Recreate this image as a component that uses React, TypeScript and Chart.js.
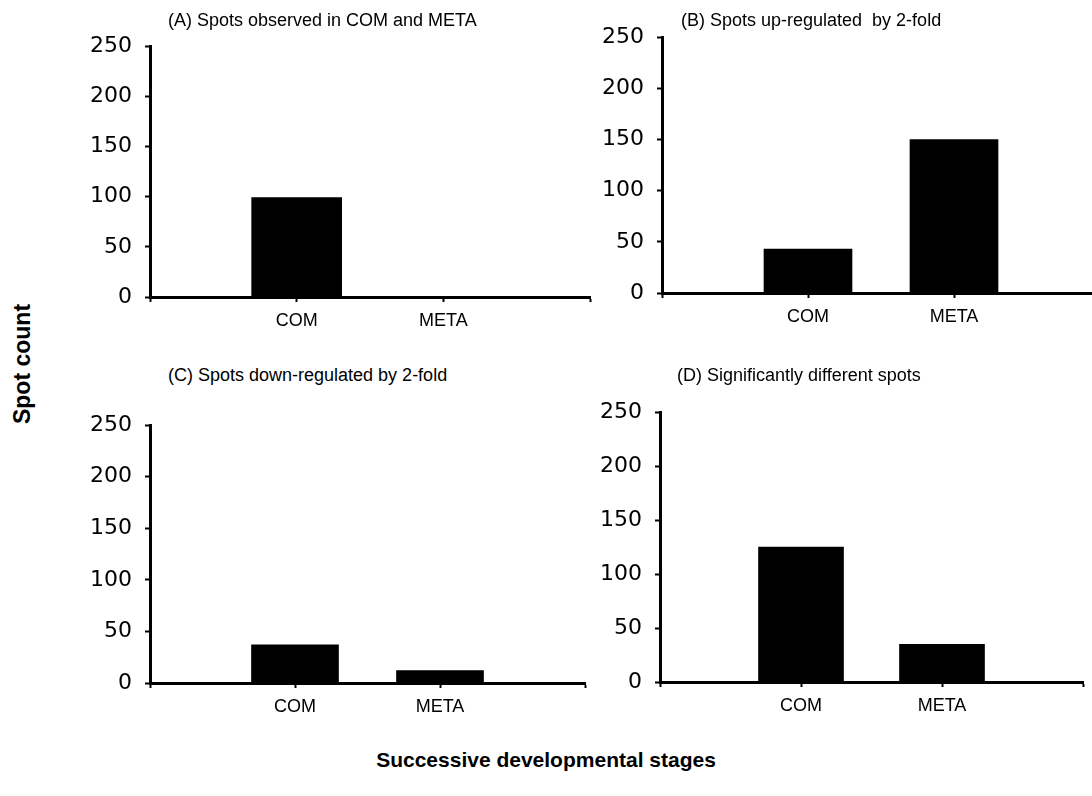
import React, { useEffect, useRef } from "react";
import { Chart, registerables } from "chart.js";

Chart.register(...registerables);

// ---- data ----
const categories: string[] = ["", "COM", "META", ""];
const yTickValues: number[] = [0, 50, 100, 150, 200, 250];
const panelTitles: string[] = [
  "(A) Spots observed in COM and META",
  "(B) Spots up-regulated  by 2-fold",
  "(C) Spots down-regulated by 2-fold",
  "(D) Significantly different spots",
];
const spotsObserved: (number | null)[] = [null, 99, 0, null];
const spotsUp: (number | null)[] = [null, 43, 150, null];
const spotsDown: (number | null)[] = [null, 37, 12, null];
const spotsSignificant: (number | null)[] = [null, 125, 35, null];
const yAxisTitle = "Spot count";
const xAxisTitle = "Successive developmental stages";

// ---- layout (styles only) ----
type Geo = {
  axisLeft: number;
  axisRight: number;
  yTop: number;
  yBottom: number;
  bar: number;
  titleX: number;
  titleY: number;
};

const geoA: Geo = { axisLeft: 150, axisRight: 590, yTop: 40, yBottom: 297, bar: 90, titleX: 168, titleY: 20 };
const geoB: Geo = { axisLeft: 662, axisRight: 1100, yTop: 31, yBottom: 293, bar: 88, titleX: 681, titleY: 20 };
const geoC: Geo = { axisLeft: 150, axisRight: 585, yTop: 419, yBottom: 683, bar: 87, titleX: 168, titleY: 375 };
const geoD: Geo = { axisLeft: 660, axisRight: 1083, yTop: 406, yBottom: 682, bar: 85, titleX: 677, titleY: 375 };

const Y_AXIS_W = 80;
const X_AXIS_H = 45;
const PAD_TOP = 20;
const PAD_RIGHT = 12;

function Panel({ values, geo, title }: { values: (number | null)[]; geo: Geo; title: string }) {
  const ref = useRef<HTMLCanvasElement | null>(null);
  const width = geo.axisRight - geo.axisLeft + Y_AXIS_W + PAD_RIGHT;
  const height = geo.yBottom - geo.yTop + PAD_TOP + X_AXIS_H;
  const left = geo.axisLeft - Y_AXIS_W;
  const top = geo.yTop - PAD_TOP;

  useEffect(() => {
    if (!ref.current) return;
    const chart = new Chart(ref.current, {
      type: "bar",
      data: {
        labels: categories,
        datasets: [
          {
            data: values as any,
            backgroundColor: "#000000",
            borderWidth: 0,
            barThickness: geo.bar,
          },
        ],
      },
      options: {
        responsive: false,
        animation: false,
        devicePixelRatio: 1,
        layout: { padding: { top: PAD_TOP, right: PAD_RIGHT, left: 0, bottom: 0 } },
        plugins: {
          legend: { display: false },
          tooltip: { enabled: false },
          title: { display: false },
        },
        scales: {
          x: {
            type: "category",
            offset: false,
            grid: {
              offset: false,
              drawOnChartArea: false,
              drawTicks: true,
              tickLength: 5,
              tickWidth: 2,
              tickColor: "#000000",
              color: "#000000",
            },
            border: { display: true, color: "#000000", width: 3 },
            ticks: {
              color: "#000000",
              font: { family: "'Liberation Sans', Arial, sans-serif", size: 18 },
              padding: 8,
              maxRotation: 0,
              autoSkip: false,
            },
            afterFit: (s: any) => {
              s.height = X_AXIS_H;
            },
          },
          y: {
            min: 0,
            max: 250,
            afterBuildTicks: (s: any) => {
              s.ticks = yTickValues.map((v) => ({ value: v }));
            },
            grid: {
              drawOnChartArea: false,
              drawTicks: true,
              tickLength: 5,
              tickWidth: 2,
              tickColor: "#000000",
              color: "#000000",
            },
            border: { display: true, color: "#000000", width: 3 },
            ticks: {
              color: "#000000",
              font: { family: "'DejaVu Sans', sans-serif", size: 22 },
              padding: 13,
            },
            afterFit: (s: any) => {
              s.width = Y_AXIS_W;
            },
          },
        },
      },
    });
    return () => chart.destroy();
  }, []);

  return (
    <>
      <canvas
        ref={ref}
        width={width}
        height={height}
        style={{ position: "absolute", left, top, width, height }}
      />
      <div
        style={{
          position: "absolute",
          left: geo.titleX,
          top: geo.titleY - 11,
          lineHeight: "22px",
          fontFamily: "'Liberation Sans', Arial, sans-serif",
          fontSize: 18,
          color: "#000",
          whiteSpace: "pre",
        }}
      >
        {title}
      </div>
    </>
  );
}

export default function App() {
  return (
    <div
      style={{
        position: "absolute",
        left: 0,
        top: 0,
        width: 1092,
        height: 796,
        overflow: "hidden",
        background: "#ffffff",
      }}
    >
      <Panel values={spotsObserved} geo={geoA} title={panelTitles[0]} />
      <Panel values={spotsUp} geo={geoB} title={panelTitles[1]} />
      <Panel values={spotsDown} geo={geoC} title={panelTitles[2]} />
      <Panel values={spotsSignificant} geo={geoD} title={panelTitles[3]} />
      <div
        style={{
          position: "absolute",
          left: 22,
          top: 364,
          transform: "translate(-50%, -50%) rotate(-90deg)",
          fontFamily: "'Liberation Sans', Arial, sans-serif",
          fontWeight: "bold",
          fontSize: 23,
          whiteSpace: "nowrap",
          color: "#000",
        }}
      >
        {yAxisTitle}
      </div>
      <div
        style={{
          position: "absolute",
          left: 546,
          top: 760,
          transform: "translate(-50%, -50%)",
          fontFamily: "'Liberation Sans', Arial, sans-serif",
          fontWeight: "bold",
          fontSize: 21,
          whiteSpace: "nowrap",
          color: "#000",
        }}
      >
        {xAxisTitle}
      </div>
    </div>
  );
}
